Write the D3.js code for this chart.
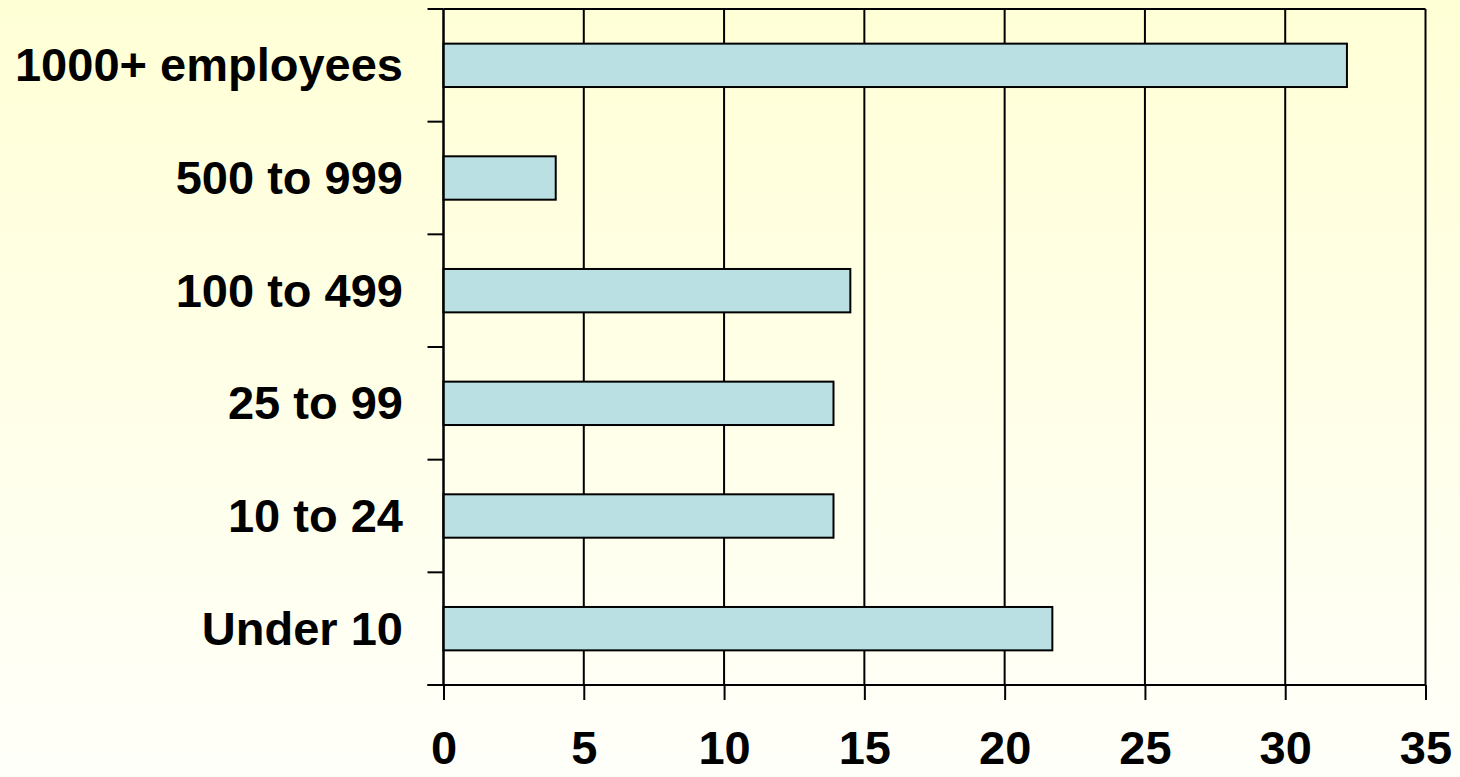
<!DOCTYPE html>
<html>
<head>
<meta charset="utf-8">
<script src="https://cdn.jsdelivr.net/npm/d3@7"></script>
<style>
    html, body { margin: 0; padding: 0; }
    body { width: 1460px; height: 777px; overflow: hidden; }
    text { font-family: 'Liberation Sans', Arial, sans-serif; font-weight: bold; fill: #000; }
</style>
</head>
<body>
<svg id="svg" width="1460" height="777"></svg>
<script>
(function() {
    'use strict';

    // categories, bottom to top as in the chart
    var categories = ['Under 10', '10 to 24', '25 to 99', '100 to 499', '500 to 999', '1000+ employees'];
    var values = [21.7, 13.9, 13.9, 14.5, 4.0, 32.2];
    var xTicks = [0, 5, 10, 15, 20, 25, 30, 35];

    var left = 443.5, right = 1425.5, top = 9, bottom = 685;
    var svg = d3.select('#svg');

    // background gradient
    var grad = svg.append('defs').append('linearGradient')
        .attr('id', 'bg')
        .attr('x1', 0).attr('y1', 0).attr('x2', 0).attr('y2', 1);
    grad.append('stop').attr('offset', '0%').attr('stop-color', '#FFFFD6');
    grad.append('stop').attr('offset', '100%').attr('stop-color', '#FFFFFA');
    svg.append('rect')
        .attr('width', 1460).attr('height', 777)
        .attr('fill', 'url(#bg)');

    var x = d3.scaleLinear().domain([0, 35]).range([left, right]);
    var y = d3.scaleBand().domain(categories.slice().reverse()).range([top, bottom]).padding(0);
    var barH = y.bandwidth() * 0.385;

    // vertical gridlines
    svg.append('g')
        .selectAll('line')
        .data(xTicks)
        .enter()
        .append('line')
        .attr('x1', function(d) { return x(d); })
        .attr('x2', function(d) { return x(d); })
        .attr('y1', top)
        .attr('y2', bottom)
        .attr('stroke', '#000')
        .attr('stroke-width', 2);

    // top border
    svg.append('line')
        .attr('x1', left).attr('x2', right)
        .attr('y1', top).attr('y2', top)
        .attr('stroke', '#000').attr('stroke-width', 2);

    // bars
    svg.append('g')
        .selectAll('rect')
        .data(categories)
        .enter()
        .append('rect')
        .attr('x', x(0))
        .attr('y', function(d) { return y(d) + (y.bandwidth() - barH) / 2; })
        .attr('width', function(d, i) { return x(values[i]) - x(0); })
        .attr('height', barH)
        .attr('fill', '#BBE0E3')
        .attr('stroke', '#000')
        .attr('stroke-width', 2);

    // y axis: ticks on band boundaries
    var bounds = categories.map(function(d) { return y(d); }).concat([bottom]);
    svg.append('g')
        .selectAll('line')
        .data(bounds)
        .enter()
        .append('line')
        .attr('x1', left - 16)
        .attr('x2', left)
        .attr('y1', function(d) { return d; })
        .attr('y2', function(d) { return d; })
        .attr('stroke', '#000')
        .attr('stroke-width', 2);
    svg.append('line')
        .attr('x1', left).attr('x2', left)
        .attr('y1', top).attr('y2', bottom)
        .attr('stroke', '#000').attr('stroke-width', 2);

    // category labels
    svg.append('g')
        .selectAll('text')
        .data(categories)
        .enter()
        .append('text')
        .attr('x', 403)
        .attr('y', function(d) { return y(d) + y.bandwidth() / 2 + 16; })
        .attr('text-anchor', 'end')
        .style('font-size', '47px')
        .text(function(d) { return d; });

    // x axis
    var xAxis = d3.axisBottom(x)
        .tickValues(xTicks)
        .tickSize(15)
        .tickPadding(40)
        .tickFormat(d3.format('d'));
    var gx = svg.append('g')
        .attr('transform', 'translate(0,' + bottom + ')')
        .call(xAxis);
    gx.select('.domain')
        .attr('d', 'M' + (left - 16) + ',0H' + right)
        .attr('stroke', '#000')
        .attr('stroke-width', 2);
    gx.selectAll('.tick line').attr('stroke', '#000').attr('stroke-width', 2);
    gx.selectAll('.tick text')
        .attr('font-family', null)
        .style('font-size', '47px')
        .attr('dy', null)
        .attr('y', 79);
    gx.attr('font-family', null).attr('font-size', null);
})();
</script>
</body>
</html>
